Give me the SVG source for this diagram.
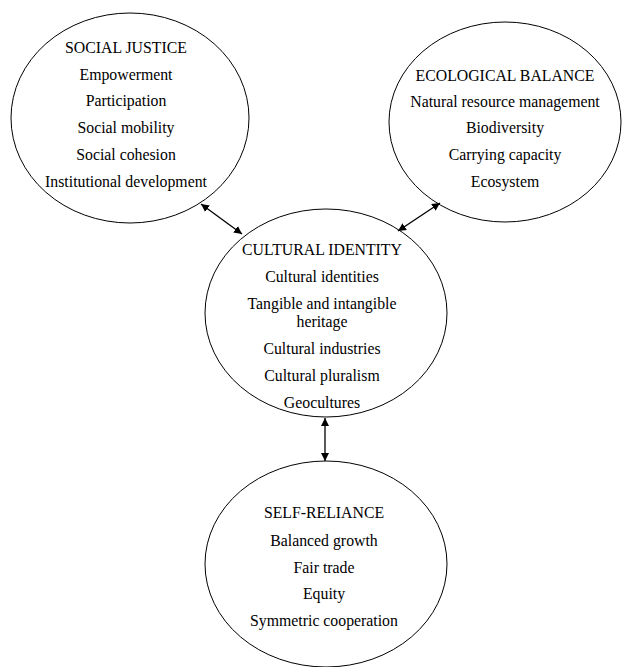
<svg xmlns="http://www.w3.org/2000/svg" width="623" height="667" viewBox="0 0 623 667">
<style>
.n{fill:#fff;stroke:#000;stroke-width:1}
.t{font-family:"Liberation Serif","Times New Roman",serif;font-size:15.8px;fill:#000;text-anchor:middle}
.c{stroke:#000;stroke-width:1.3;fill:none;marker-start:url(#a);marker-end:url(#a)}
</style>
<defs>
<marker id="a" viewBox="0 0 10 10" refX="10" refY="5" markerWidth="8" markerHeight="8" markerUnits="userSpaceOnUse" orient="auto-start-reverse">
<path d="M0,0 L10,5 L0,10 z" fill="#000"/>
</marker>
</defs>
<rect width="623" height="667" fill="#fff"/>
<g id="social-justice">
<ellipse class="n" cx="130" cy="118" rx="119" ry="105"/>
<text class="t" x="126" y="53">SOCIAL JUSTICE</text>
<text class="t" x="126" y="80">Empowerment</text>
<text class="t" x="126" y="106">Participation</text>
<text class="t" x="126" y="133">Social mobility</text>
<text class="t" x="126" y="160">Social cohesion</text>
<text class="t" x="126" y="187">Institutional development</text>
</g>
<g id="ecological-balance">
<ellipse class="n" cx="505" cy="122" rx="116" ry="100"/>
<text class="t" x="505" y="81">ECOLOGICAL BALANCE</text>
<text class="t" x="505" y="107">Natural resource management</text>
<text class="t" x="505" y="133">Biodiversity</text>
<text class="t" x="505" y="160">Carrying capacity</text>
<text class="t" x="505" y="187">Ecosystem</text>
</g>
<g id="cultural-identity">
<ellipse class="n" cx="326" cy="313" rx="121" ry="104"/>
<text class="t" x="322" y="255">CULTURAL IDENTITY</text>
<text class="t" x="322" y="282">Cultural identities</text>
<text class="t" x="322" y="309">Tangible and intangible</text>
<text class="t" x="322" y="327">heritage</text>
<text class="t" x="322" y="354">Cultural industries</text>
<text class="t" x="322" y="381">Cultural pluralism</text>
<text class="t" x="322" y="408">Geocultures</text>
</g>
<g id="self-reliance">
<ellipse class="n" cx="326" cy="564" rx="121" ry="103"/>
<text class="t" x="324" y="518">SELF-RELIANCE</text>
<text class="t" x="324" y="546">Balanced growth</text>
<text class="t" x="324" y="573">Fair trade</text>
<text class="t" x="324" y="599">Equity</text>
<text class="t" x="324" y="626">Symmetric cooperation</text>
</g>
<g id="connectors">
<line class="c" x1="201" y1="204" x2="242" y2="234"/>
<line class="c" x1="440" y1="203" x2="398" y2="231"/>
<line class="c" x1="325" y1="418" x2="325" y2="461"/>
</g>
</svg>
